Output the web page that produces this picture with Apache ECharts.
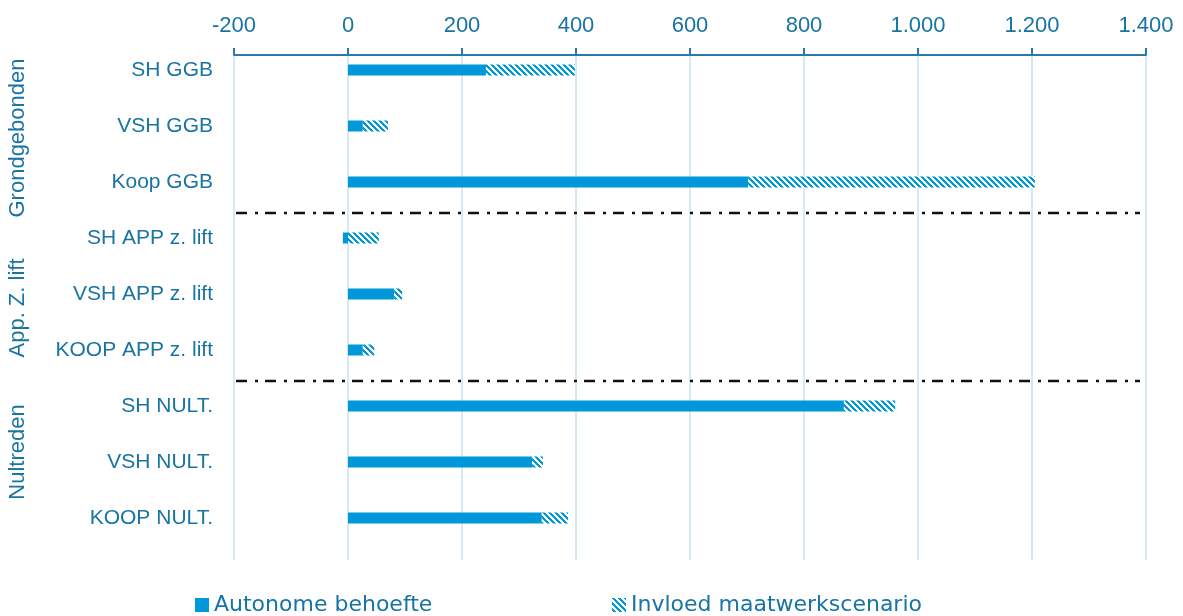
<!DOCTYPE html>
<html><head><meta charset="utf-8">
<script src="https://cdn.jsdelivr.net/npm/echarts@6/dist/echarts.min.js"></script>
<style>html,body{margin:0;padding:0;background:#fff}#c{width:1183px;height:616px}</style>
</head><body><div id="c"></div>
<script>
const categories = ['SH GGB','VSH GGB','Koop GGB','SH APP z. lift','VSH APP z. lift','KOOP APP z. lift','SH NULT.','VSH NULT.','KOOP NULT.'];
const autonome = [242, 26, 702, -9, 81, 26, 870, 323, 340];
const invloed = [156, 44, 503, 54, 14, 20, 90, 19, 46];
const seriesNames = ['Autonome behoefte', 'Invloed maatwerkscenario'];
const groups = ['Grondgebonden', 'App. Z. lift', 'Nultreden'];
const xTicks = {min: -200, max: 1400, interval: 200};

const BLUE = '#0098d8', TXT = '#1874a3';
const SANS = "'Liberation Sans',Arial,sans-serif";
const WIDE = "'DejaVu Sans',sans-serif";

function makePattern() {
  const n = 6, cv = document.createElement('canvas');
  cv.width = n; cv.height = n;
  const ctx = cv.getContext('2d');
  const img = ctx.createImageData(n, n);
  for (let j = 0; j < n; j++) for (let i = 0; i < n; i++) {
    const k = (j * n + i) * 4;
    const on = (((i - j) % n) + n) % n < 3;
    img.data[k] = on ? 0 : 255; img.data[k+1] = on ? 152 : 255; img.data[k+2] = on ? 216 : 255; img.data[k+3] = 255;
  }
  ctx.putImageData(img, 0, 0);
  return cv;
}
const pattern = {image: makePattern(), repeat: 'repeat'};

const chart = echarts.init(document.getElementById('c'), null, {renderer: 'canvas'});
const fmt = v => (v < 0 ? '-' : '') + Math.abs(v).toString().replace(/\B(?=(\d{3})+(?!\d))/g, '.');

const legendCommon = {top: 589, itemWidth: 14, itemHeight: 14, icon: 'rect',
  textStyle: {color: TXT, fontSize: 22, fontFamily: WIDE, padding: [0, 0, 0, 0]}};

chart.setOption({
  animation: false,
  backgroundColor: '#fff',
  grid: [
    {left: 234, right: 37, top: 55, bottom: 56},
    {left: 234, right: 37, top: 42, bottom: 70}
  ],
  xAxis: [
    {gridIndex: 0, type: 'value', position: 'top', min: xTicks.min, max: xTicks.max, interval: xTicks.interval,
     axisLine: {show: true, lineStyle: {color: '#2a7aa8', width: 2}},
     axisTick: {show: true, length: 7, lineStyle: {color: '#2a7aa8', width: 2}},
     axisLabel: {color: TXT, fontSize: 22, fontFamily: SANS, margin: 18, formatter: fmt},
     splitLine: {show: true, lineStyle: {color: '#d6eaf6', width: 2}}},
    {gridIndex: 1, type: 'value', position: 'top', min: xTicks.min, max: xTicks.max, interval: xTicks.interval,
     show: false, splitLine: {show: false}}
  ],
  yAxis: [
    {gridIndex: 0, type: 'category', data: categories, inverse: true, show: false},
    {gridIndex: 1, type: 'category', data: categories, inverse: true,
     axisLine: {show: false}, axisTick: {show: false},
     axisLabel: {color: TXT, fontSize: 21, fontFamily: SANS, margin: 21}}
  ],
  legend: [
    Object.assign({left: 190, data: [seriesNames[0]]}, legendCommon),
    Object.assign({left: 607, data: [seriesNames[1]]}, legendCommon)
  ],
  series: [
    {name: seriesNames[0], type: 'bar', xAxisIndex: 1, yAxisIndex: 1, stack: 's', barWidth: 11,
     data: autonome, itemStyle: {color: BLUE}},
    {name: seriesNames[1], type: 'bar', xAxisIndex: 1, yAxisIndex: 1, stack: 's', barWidth: 11,
     data: invloed, itemStyle: {color: pattern}}
  ]
});

function addDecor() {
  const y = i => chart.convertToPixel({yAxisIndex: 1}, categories[i]);
  const x0 = chart.convertToPixel({xAxisIndex: 1}, xTicks.min) + 2;
  const x1 = chart.convertToPixel({xAxisIndex: 1}, xTicks.max) - 6;
  const sep = [(y(2) + y(3)) / 2 + 3, (y(5) + y(6)) / 2 + 3];
  const gy = [138, 308, 452];
  const els = sep.map(s => ({
    type: 'line', z: 50, shape: {x1: x0, y1: s, x2: x1, y2: s},
    style: {stroke: '#111', lineWidth: 2.5, lineDash: [11, 8, 3, 7]}
  }));
  groups.forEach((g, i) => els.push({
    type: 'text', x: 18, y: gy[i], rotation: Math.PI / 2,
    style: {text: g, fill: TXT, font: '22px ' + SANS, align: 'center', verticalAlign: 'middle'}
  }));
  chart.setOption({graphic: els});
}
addDecor();
</script>
</body></html>
